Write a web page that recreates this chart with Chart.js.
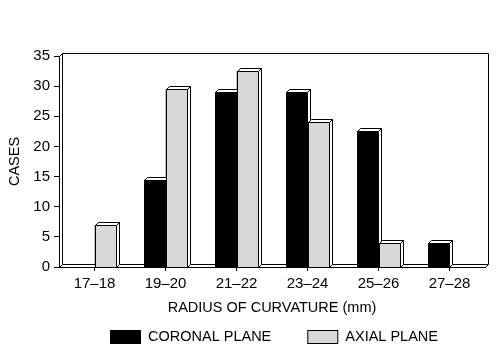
<!DOCTYPE html>
<html>
<head>
<meta charset="utf-8">
<script src="https://cdn.jsdelivr.net/npm/chart.js@4.4.1/dist/chart.umd.min.js"></script>
<style>
  html, body { margin: 0; padding: 0; background: #fff; }
  canvas { display: block; }
</style>
</head>
<body>
<canvas id="grafico" width="500" height="354"></canvas>
<script>
// dados
const categorias = ['17–18', '19–20', '21–22', '23–24', '25–26', '27–28']
const coronal = [0, 14.5, 29, 29, 22.5, 4]
const axial = [7, 29.5, 32.5, 24, 4, 0]
const nomes = ['CORONAL PLANE', 'AXIAL PLANE']
const cores = ['#000000', '#d8d8d8']
const yMax = 35
const yPasso = 5

const fonte = 'Liberation Sans, Arial, sans-serif'
const prof = 3 // profundidade do efeito 3d

function px(v){ return Math.round(v) + 0.5 }

function barra3d(ctx, bar, cor){
    const L = px(bar.x - bar.width/2), R = px(bar.x + bar.width/2)
    const T = px(bar.y), B = px(bar.base)
    if (B - T < 1) return
    ctx.fillStyle = cor
    ctx.fillRect(L, T, R-L, B-T)
    ctx.strokeRect(L, T, R-L, B-T)
    // tampa
    ctx.beginPath()
    ctx.moveTo(L, T); ctx.lineTo(L+prof, T-prof); ctx.lineTo(R+prof, T-prof); ctx.lineTo(R, T)
    ctx.closePath()
    ctx.fillStyle = '#fff'; ctx.fill(); ctx.stroke()
    // lado
    ctx.beginPath()
    ctx.moveTo(R, T); ctx.lineTo(R+prof, T-prof); ctx.lineTo(R+prof, B-prof); ctx.lineTo(R, B)
    ctx.closePath()
    ctx.fill(); ctx.stroke()
}

const caixa3d = {
    id: 'caixa3d',
    beforeDatasetsDraw(chart){
        const {ctx, chartArea:{left, right, top, bottom}} = chart
        const l = px(left), r = px(right), t = px(top), b = px(bottom)
        ctx.save()
        ctx.strokeStyle = '#000'
        ctx.lineWidth = 1
        // parede do fundo
        ctx.beginPath()
        ctx.moveTo(l+prof, b-prof); ctx.lineTo(l+prof, t-prof); ctx.lineTo(r+prof, t-prof); ctx.lineTo(r+prof, b-prof)
        ctx.stroke()
        // parede da esquerda
        ctx.beginPath()
        ctx.moveTo(l, t); ctx.lineTo(l+prof, t-prof)
        ctx.stroke()
        // chao
        ctx.beginPath()
        ctx.moveTo(l, b); ctx.lineTo(l+prof, b-prof); ctx.lineTo(r+prof, b-prof); ctx.lineTo(r, b)
        ctx.closePath()
        ctx.fillStyle = '#fff'
        ctx.fill(); ctx.stroke()
        ctx.restore()
    },
    afterDatasetsDraw(chart){
        const {ctx} = chart
        ctx.save()
        ctx.strokeStyle = '#000'
        ctx.lineWidth = 1
        // redesenha categoria por categoria para a ordem ficar certa
        for (let j = 0; j < categorias.length; j++){
            chart.data.datasets.forEach((ds, i) => {
                const bar = chart.getDatasetMeta(i).data[j]
                barra3d(ctx, bar, ds.backgroundColor)
            })
        }
        ctx.restore()
    },
    afterDraw(chart){
        const {ctx} = chart
        ctx.save()
        ctx.font = `14.5px ${fonte}`
        ctx.textBaseline = 'middle'
        ctx.fillStyle = '#000'
        ctx.strokeStyle = '#000'
        let x = 110
        const y = 330
        chart.data.datasets.forEach((ds) => {
            ctx.fillStyle = ds.backgroundColor
            ctx.fillRect(x+0.5, y+0.5, 30, 13)
            ctx.strokeRect(x+0.5, y+0.5, 30, 13)
            ctx.fillStyle = '#000'
            ctx.fillText(ds.label, x + 38, y + 7)
            x += 38 + ctx.measureText(ds.label).width + 36
        })
        ctx.restore()
    }
}

new Chart(document.getElementById('grafico'), {
    type: 'bar',
    data: {
        labels: categorias,
        datasets: [
            { label: nomes[0], data: coronal, backgroundColor: cores[0], borderColor: '#000', borderWidth: 1 },
            { label: nomes[1], data: axial, backgroundColor: cores[1], borderColor: '#000', borderWidth: 1 }
        ]
    },
    options: {
        responsive: false,
        animation: false,
        devicePixelRatio: 1,
        layout: { padding: { left: 0, right: 15, top: 56, bottom: 37 } },
        categoryPercentage: 0.6,
        barPercentage: 1,
        plugins: {
            legend: { display: false },
            tooltip: { enabled: false }
        },
        scales: {
            x: {
                afterFit(scale){ scale.height = 50 },
                grid: { offset: false, drawOnChartArea: false, tickLength: 4, color: '#000' },
                border: { display: true, color: '#000' },
                ticks: { color: '#000', padding: 4, font: { family: fonte, size: 15 } },
                title: { display: true, text: 'RADIUS OF CURVATURE (mm)', color: '#000', padding: 0, font: { family: fonte, size: 14.5 } }
            },
            y: {
                min: 0,
                max: yMax,
                afterFit(scale){ scale.width = 59 },
                grid: { drawOnChartArea: false, tickLength: 5, color: '#000' },
                border: { display: true, color: '#000' },
                ticks: { stepSize: yPasso, color: '#000', padding: 4, font: { family: fonte, size: 15 } },
                title: { display: true, text: 'CASES', color: '#000', padding: { top: 6, bottom: 0 }, font: { family: fonte, size: 14.5 } }
            }
        }
    },
    plugins: [caixa3d]
})
</script>
</body>
</html>
